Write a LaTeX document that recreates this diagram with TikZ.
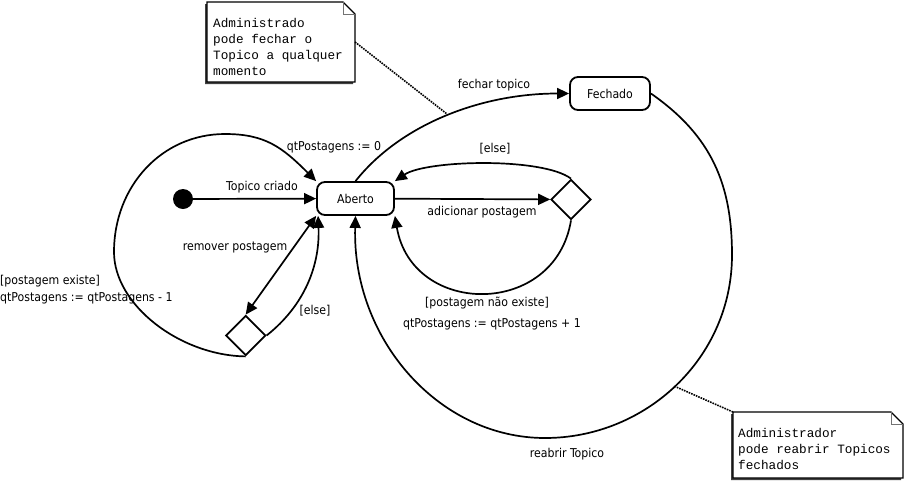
\documentclass[tikz,border=0pt]{standalone}
\usepackage{fontspec}
\setmainfont{DejaVu Sans Condensed}
\newfontfamily\notefont{Liberation Mono}
\usetikzlibrary{arrows.meta,shapes.geometric}
\tikzset{
  state/.style={draw, line width=1.8pt, rounded corners=8pt, minimum width=77pt, minimum height=33pt, inner sep=0pt, font=\fontsize{12.2}{15}\selectfont},
  choice/.style={draw, diamond, line width=1.8pt, minimum width=40pt, minimum height=40pt, inner sep=0pt},
  initdot/.style={circle, fill=black, minimum size=20pt, inner sep=0pt},
  trans/.style={line width=1.7pt, -{Triangle[length=12pt,width=11pt]}},
  twoway/.style={line width=1.7pt, {Triangle[length=12pt,width=11pt]}-{Triangle[length=12pt,width=11pt]}},
  lbl/.style={inner sep=0pt, text height=9pt, text depth=2.5pt, font=\fontsize{12.2}{15}\selectfont},
  notebox/.style={inner sep=0pt, outer sep=0pt},
  notetext/.style={inner sep=0pt, align=left, font=\notefont\fontsize{12.7}{16.3}\selectfont},
  notelink/.style={line width=1.6pt, densely dotted},
  shadowfill/.style={fill=black!75},
  notefill/.style={fill=white, draw=black, line width=1.1pt},
  foldline/.style={draw=black!55, line width=0.8pt},
}
\begin{document}
\begin{tikzpicture}[x=1pt,y=-1pt]
\useasboundingbox (0,0) rectangle (907,480);

% ---- states and pseudo states
\node[initdot] (init) at (183,199) {};
\node[state] (ab) at (355.5,198.5) {Aberto};
\node[state, minimum width=80pt] (fe) at (610,93.5) {Fechado};
\node[choice] (d1) at (571,199.5) {};
\node[choice] (d2) at (245.7,335.5) {};

% ---- helper coordinates on curves
\coordinate (l1) at (114,252);
\coordinate (l2) at (225,134);
\coordinate (r1) at (732,255);
\coordinate (r2) at (545,438);
\coordinate (k1) at (447,114);
\coordinate (k2) at (674,386);

% ---- transitions
\draw[trans] (init) -- (ab);
\draw[trans] (ab) -- (d1);
\draw[trans] (d1.north) .. controls (542,157) and (426,160) .. (ab.north east);
\draw[trans] (d1.south) .. controls (555,318) and (412,317) .. (ab.south east);
\draw[twoway] (ab.south west) -- (d2.north);
\draw[trans] (d2.east) .. controls (305,305) and (320,265) .. ([xshift=2pt]ab.south west);
\draw[trans] (d2.south) .. controls (180,355.5) and (114,305) .. (l1)
  .. controls (114,186) and (162,134) .. (l2)
  .. controls (265,134) and (282,147) .. (ab.north west);
\draw[trans] (ab.north) .. controls (400,125) and (480,93.5) .. (fe.west);
\draw[trans] (fe.east) .. controls (712,136) and (732,185) .. (r1)
  .. controls (732,358) and (646,438) .. (r2)
  .. controls (438,438) and (352,338) .. (ab.south);

% ---- labels
\node[lbl] (lq0) at (334,147) {qtPostagens := 0};
\node[lbl] (ltc) at (262,187) {Topico criado};
\node[lbl] (lap) at (482,212) {adicionar postagem};
\node[lbl] (le1) at (495,149) {[else]};
\node[lbl] (lft) at (494,85) {fechar topico};
\node[lbl] (lrp) at (235,247) {remover postagem};
\node[lbl, anchor=west] (lpe) at (0,281) {[postagem existe]};
\node[lbl, anchor=west] (lqm) at (0,298) {qtPostagens := qtPostagens - 1};
\node[lbl] (le2) at (315,311) {[else]};
\node[lbl] (lpn) at (487,303) {[postagem não existe]};
\node[lbl] (lqp) at (492,324) {qtPostagens := qtPostagens + 1};
\node[lbl] (lrt) at (567,454) {reabrir Topico};

% ---- note 1
\node[notebox, minimum width=148pt, minimum height=80pt] (n1) at (281,42) {};
\fill[shadowfill] ([shift={(-2pt,-2pt)}]n1.north west) -- ([shift={(-14pt,-2pt)}]n1.north east) -- ([shift={(-2pt,-14pt)}]n1.north east) -- ([shift={(-2pt,-2pt)}]n1.south east) -- ([shift={(-2pt,-2pt)}]n1.south west) -- cycle;
\path[notefill] (n1.north west) -- ([xshift=-12pt]n1.north east) -- ([yshift=-12pt]n1.north east) -- (n1.south east) -- (n1.south west) -- cycle;
\path[foldline] ([xshift=-12pt]n1.north east) |- ([yshift=-12pt]n1.north east);
\node[notetext, anchor=west] (t1) at (213,47) {Administrado\\pode fechar o\\Topico a qualquer\\momento};
\draw[notelink] (n1.east) -- (k1);

% ---- note 2
\node[notebox, minimum width=170pt, minimum height=66pt] (n2) at (818,445) {};
\fill[shadowfill] ([shift={(-2pt,-2pt)}]n2.north west) -- ([shift={(-14pt,-2pt)}]n2.north east) -- ([shift={(-2pt,-14pt)}]n2.north east) -- ([shift={(-2pt,-2pt)}]n2.south east) -- ([shift={(-2pt,-2pt)}]n2.south west) -- cycle;
\path[notefill] (n2.north west) -- ([xshift=-12pt]n2.north east) -- ([yshift=-12pt]n2.north east) -- (n2.south east) -- (n2.south west) -- cycle;
\path[foldline] ([xshift=-12pt]n2.north east) |- ([yshift=-12pt]n2.north east);
\node[notetext, anchor=west] (t2) at (738,449) {Administrador\\pode reabrir Topicos\\fechados};
\draw[notelink] (n2.north west) -- (k2);
\end{tikzpicture}
\end{document}
